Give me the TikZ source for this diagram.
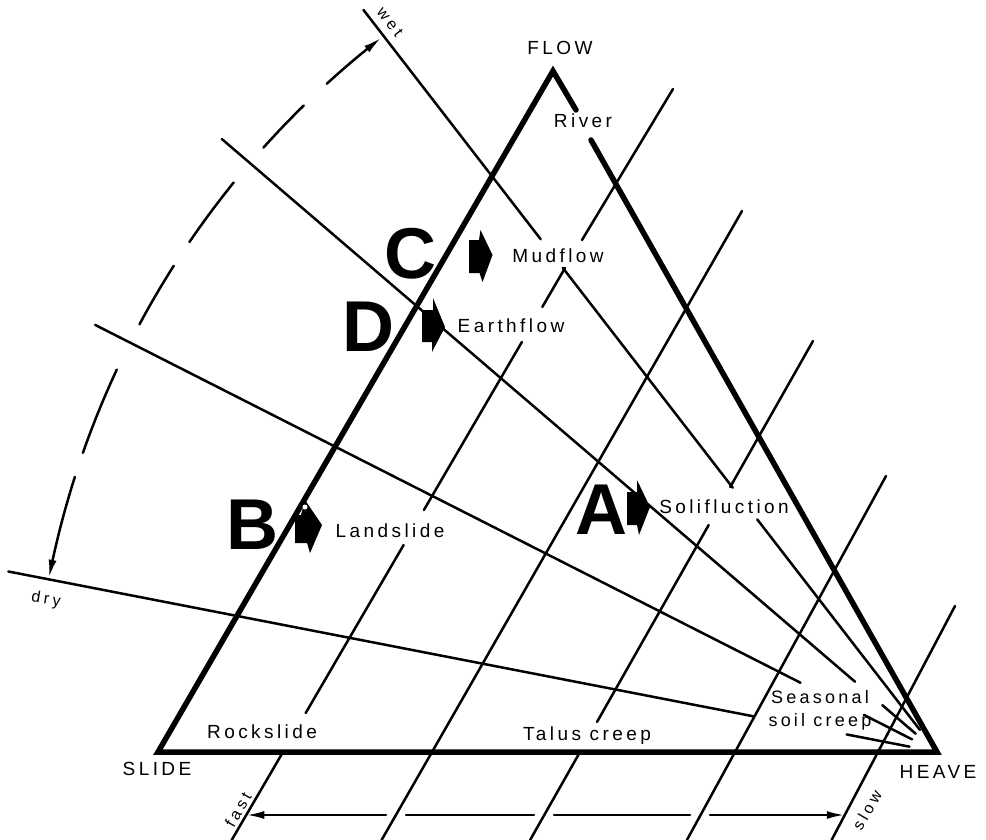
\documentclass[tikz,border=0pt]{standalone}
\usepackage{fontspec}
\setmainfont{Liberation Sans}
\newfontfamily\labfont[LetterSpace=18]{Liberation Sans}
\newfontfamily\smlfont[LetterSpace=22]{Liberation Sans}
\usetikzlibrary{calc,arrows.meta}
\begin{document}
\begin{tikzpicture}[x=1pt,y=-1pt,
  side/.style={line width=5.5pt,line cap=round,line join=miter},
  ln/.style={line width=2.5pt,line cap=round},
  lab/.style={inner sep=0pt,anchor=base,font=\labfont\fontsize{19}{19}\selectfont},
  labs/.style={inner sep=0pt,anchor=base,font=\labfont\fontsize{18}{18}\selectfont},
  sml/.style={inner sep=0pt,anchor=center,font=\smlfont\fontsize{16}{16}\selectfont},
  bigl/.style={inner sep=0pt,anchor=center,font=\fontsize{72}{72}\selectfont\bfseries},
  tipa/.style={-{Latex[length=18pt,width=8pt]}},
  tipb/.style={{Latex[length=18pt,width=8pt]}-},
  blob/.style={fill=black},
]
\fill[white] (0,0) rectangle (986,840);
\useasboundingbox (0,0) rectangle (986,840);

% --- main vertices
\coordinate (H) at (937,752);
\coordinate (S) at (158,752);
\coordinate (F) at (553,71);
\coordinate (Ra) at (576,110);
\coordinate (Rb) at (591,140);

% --- velocity lines (fast -> slow)
\coordinate (B1) at (283,752);   \coordinate (K1) at (565,268); \coordinate (T1) at (673,89);
\coordinate (B2) at (432,752);   \coordinate (T2) at (742,211);
\coordinate (B3) at (580,752);   \coordinate (T3) at (813,341);
\coordinate (B4) at (735,752);   \coordinate (T4) at (886,476);
\coordinate (B5) at (878,752);   \coordinate (T5) at (955,606);

\draw[ln] (231.7,840) -- (B1);
\draw[ln] (305.7,713) -- (403.6,545);
\draw[ln] (423.9,510) -- (521.9,342);
\draw[ln] (542.3,307) -- (K1);
\draw[ln] (582,240) -- (T1);

\draw[ln] (381.6,840) -- (T2);

\draw[ln] (530.1,840) -- (B3);
\draw[ln] (597,722) -- (708.7,525);
\draw[ln] (730.2,487) -- (T3);

\draw[ln] (686.9,840) -- (T4);
\draw[ln] (831.6,840) -- (T5);

% --- moisture lines (wet -> dry), radiating from HEAVE
\draw[ln] ($(H)+(-127.7:938)$) -- ($(H)+(-127.7:648)$);
\draw[ln] ($(H)+(-127.7:612)$) -- ($(H)+(-127.7:334)$);
\draw[ln] ($(H)+(-127.7:294)$) -- ($(H)+(-127.7:28)$);
\draw[ln] ($(H)+(-139.4:942)$) -- ($(H)+(-139.4:108)$);
\draw[ln] ($(H)+(-139.4:72)$) -- ($(H)+(-139.4:28)$);
\draw[ln] ($(H)+(-153.1:944)$) -- ($(H)+(-153.1:153)$);
\draw[ln] ($(H)+(-153.1:82)$) -- ($(H)+(-153.1:28)$);
\draw[ln] ($(H)+(-169.0:946)$) -- ($(H)+(-169.0:187)$);
\draw[ln] ($(H)+(-169.0:92)$) -- ($(H)+(-169.0:28)$);

% --- triangle
\draw[side] (Ra) -- (F) -- (S) -- (H) -- (Rb);

% --- dashed arc wet <-> dry (centred on HEAVE)
\draw[ln,tipb] plot[domain=127.9:132.4,samples=10] ({937+905*cos(\x)},{752-905*sin(\x)});
\foreach \a/\b in {134.4/138.1, 141.0/145.7, 147.5/151.8, 155.0/160.7}
  \draw[ln] plot[domain=\a:\b,samples=12] ({937+905*cos(\x)},{752-905*sin(\x)});
\draw[ln,tipa] plot[domain=162.3:168.9,samples=12] ({937+905*cos(\x)},{752-905*sin(\x)});

% --- fast <-> slow arrow
\coordinate (a1) at (246.3,815);
\coordinate (a5) at (844.8,815);
\draw[ln,tipb] (a1) -- (386,815);
\draw[ln] (406,815) -- (534,815);
\draw[ln] (554,815) -- (690,815);
\draw[ln,tipa] (710,815) -- (a5);

% --- arrow markers
\fill[blob,shift={(469,256)}] (0,-16) -- (10,-16) -- (11.5,-26) -- (23.5,-1) -- (13.5,26) -- (10.5,17) -- (0,17) -- cycle;
\fill[blob,shift={(422,326)}] (0,-16) -- (11,-16) -- (11,-28) -- (23,1) -- (10,26) -- (10,16) -- (0,16) -- cycle;
\fill[blob,shift={(295,528)}] (0,-13) -- (6,-13) -- (10,-28) -- (27,-3) -- (15,25) -- (12,15) -- (0,15) -- cycle;
\fill[white] (305,507) circle (2.5);
\fill[blob,shift={(627,508)}] (0,-16) -- (10,-16) -- (10,-28) -- (23,-1) -- (12,27) -- (10,17) -- (0,17) -- cycle;

% --- big letters
\node[bigl] (lC) at (410,254) {C};
\node[bigl] (lD) at (368,327) {D};
\node[bigl] (lB) at (252,525) {B};
\node[bigl] (lA) at (601,510) {A};

% --- labels
\node[lab] (flow) at (560,55) {FLOW};
\node[lab] (river) at (583,128) {River};
\node[lab] (mud) at (558,262) {Mudflow};
\node[lab] (earth) at (511,332) {Earthflow};
\node[lab] (land) at (390,537) {Landslide};
\node[lab] (soli) at (724,513) {Solifluction};
\node[lab] (rock) at (262,738) {Rockslide};
\node[lab] (talus) at (587,740) {Talus creep};
\node[labs] (seas) at (820,703) {Seasonal};
\node[labs] (soil) at (820,726) {soil creep};
\node[lab] (slide) at (157,775) {SLIDE};
\node[lab] (heave) at (938,778) {HEAVE};
\node[sml,rotate=-52] (wet) at (390,22) {wet};
\node[sml,rotate=-9] (dry) at (46,600) {dry};
\node[sml,rotate=60] (fast) at (238,810) {fast};
\node[sml,rotate=60] (slow) at (867,810) {slow};
\end{tikzpicture}
\end{document}
